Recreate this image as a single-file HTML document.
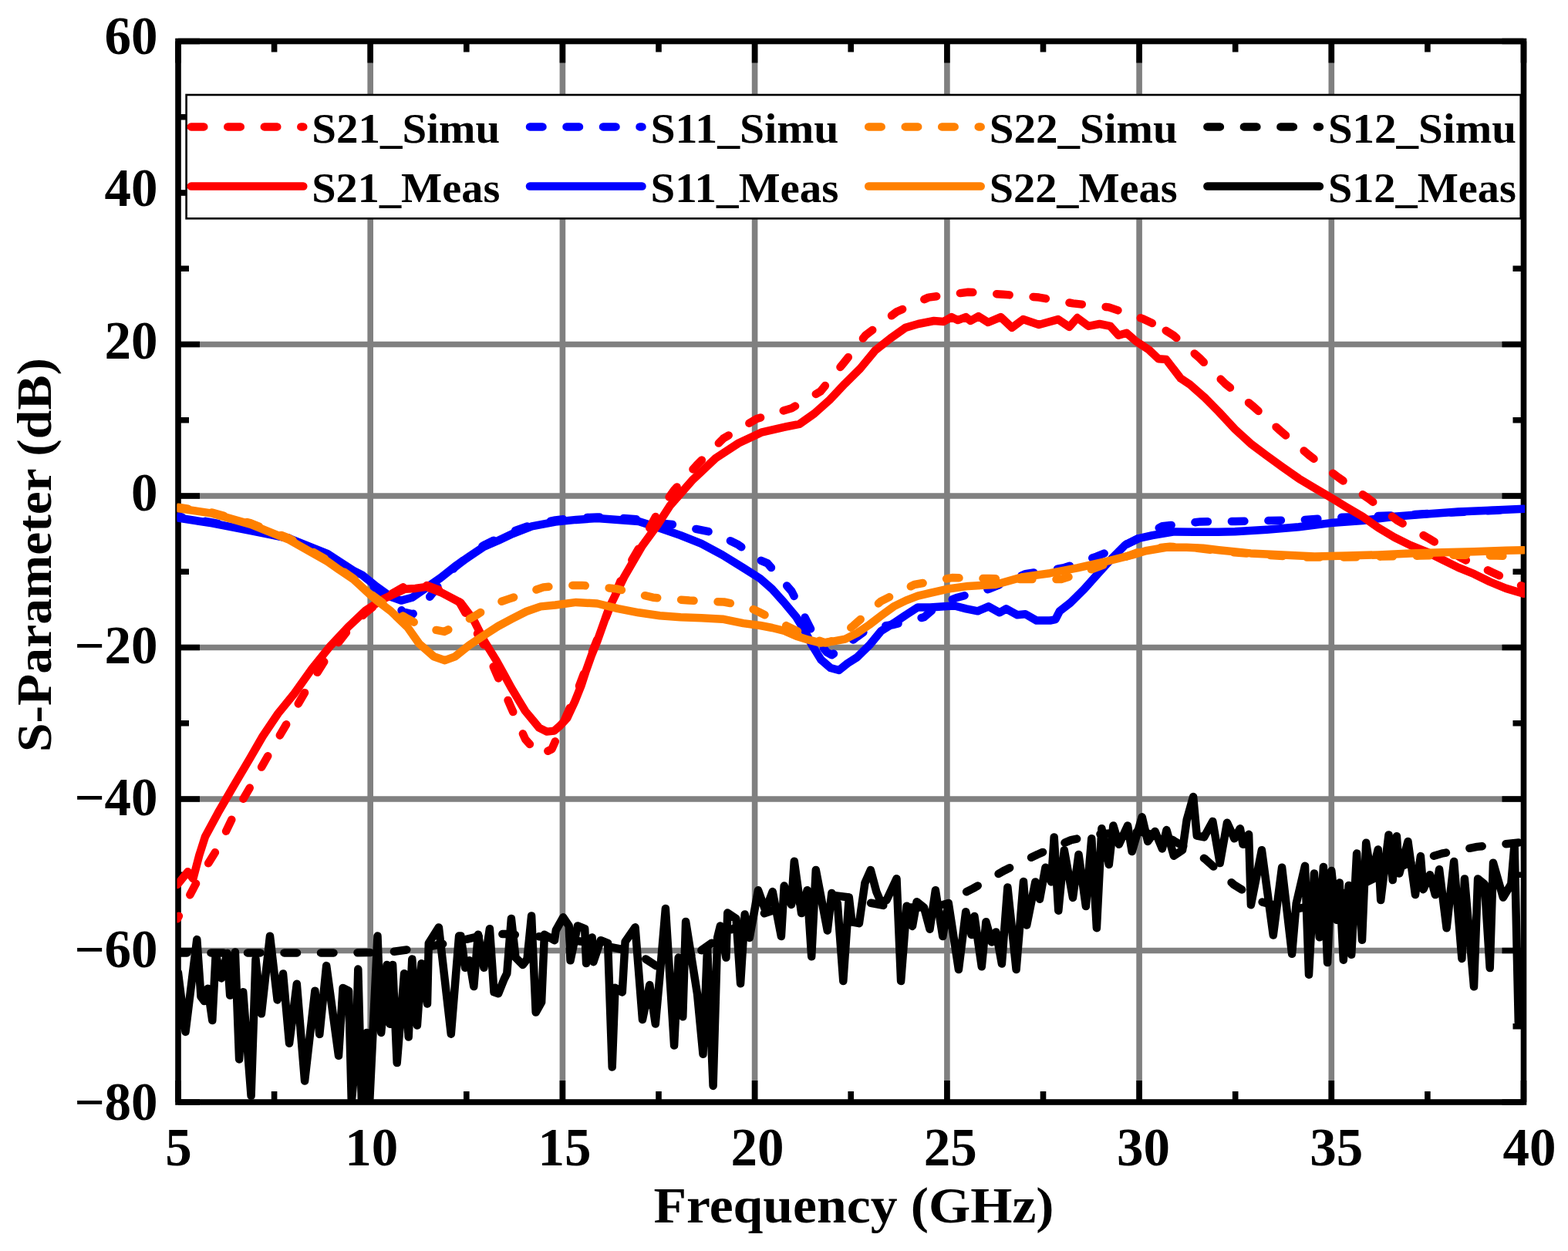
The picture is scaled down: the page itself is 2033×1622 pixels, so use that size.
<!DOCTYPE html><html><head><meta charset="utf-8"><style>html,body{margin:0;padding:0;background:#fff;width:2033px;height:1622px;overflow:hidden}</style></head><body><svg width="2033" height="1622" viewBox="0 0 2033 1622" style="display:block"><rect width="2033" height="1622" fill="#fff"/><path d="M480.2 53.5V1429.0M729.4 53.5V1429.0M978.6 53.5V1429.0M1227.9 53.5V1429.0M1477.1 53.5V1429.0M1726.3 53.5V1429.0M231.0 1232.5H1975.5M231.0 1036.0H1975.5M231.0 839.5H1975.5M231.0 643.0H1975.5M231.0 446.5H1975.5M231.0 250.0H1975.5" stroke="#808080" stroke-width="7.6" fill="none"/><path d="M231.0 1429.0v-28M231.0 53.5v28M355.6 1429.0v-14M355.6 53.5v14M480.2 1429.0v-28M480.2 53.5v28M604.8 1429.0v-14M604.8 53.5v14M729.4 1429.0v-28M729.4 53.5v28M854.0 1429.0v-14M854.0 53.5v14M978.6 1429.0v-28M978.6 53.5v28M1103.2 1429.0v-14M1103.2 53.5v14M1227.9 1429.0v-28M1227.9 53.5v28M1352.5 1429.0v-14M1352.5 53.5v14M1477.1 1429.0v-28M1477.1 53.5v28M1601.7 1429.0v-14M1601.7 53.5v14M1726.3 1429.0v-28M1726.3 53.5v28M1850.9 1429.0v-14M1850.9 53.5v14M1975.5 1429.0v-28M1975.5 53.5v28M231.0 1429.0h28M1975.5 1429.0h-28M231.0 1330.8h14M1975.5 1330.8h-14M231.0 1232.5h28M1975.5 1232.5h-28M231.0 1134.2h14M1975.5 1134.2h-14M231.0 1036.0h28M1975.5 1036.0h-28M231.0 937.8h14M1975.5 937.8h-14M231.0 839.5h28M1975.5 839.5h-28M231.0 741.2h14M1975.5 741.2h-14M231.0 643.0h28M1975.5 643.0h-28M231.0 544.8h14M1975.5 544.8h-14M231.0 446.5h28M1975.5 446.5h-28M231.0 348.2h14M1975.5 348.2h-14M231.0 250.0h28M1975.5 250.0h-28M231.0 151.8h14M1975.5 151.8h-14M231.0 53.5h28M1975.5 53.5h-28" stroke="#000" stroke-width="7.6" fill="none"/><rect x="231.0" y="53.5" width="1744.5" height="1375.5" fill="none" stroke="#000" stroke-width="7.6"/><g clip-path="url(#clip)"><clipPath id="clip"><rect x="229.5" y="52.0" width="1747.5" height="1378.5"/></clipPath><path d="M231.0 669.5 274.9 677.4 325.2 687.2 375.0 698.0 424.9 719.6 458.3 741.2 480.2 757.0 505.1 776.6 522.6 793.3 535.0 796.3 547.5 786.4 558.0 772.7 574.9 751.1 589.9 735.4 608.3 720.6 627.3 706.9 645.7 698.0 664.6 689.2 689.6 680.3 720.0 674.4 746.9 671.5 774.3 670.5 801.2 671.5 828.1 673.5 855.5 678.4 874.0 680.3 923.8 690.2 956.7 705.9 983.6 725.5 995.1 730.4 1026.5 766.8 1048.4 810.0 1057.9 828.7 1071.8 845.4 1078.3 849.3 1093.3 839.5 1111.2 825.7 1127.2 814.0 1158.6 810.0 1198.0 800.2 1217.9 783.5 1241.3 774.7 1281.7 763.8 1329.5 744.2 1379.4 736.3 1421.7 721.6 1462.1 704.9 1507.0 682.3 1556.3 676.4 1601.7 676.0 1646.5 675.0 1691.4 673.9 1736.3 670.9 1801.0 668.5 1850.9 666.1 1900.7 663.6 1940.6 661.7 1975.5 658.7" stroke="#0000ff" stroke-width="10.5" stroke-linejoin="round" stroke-linecap="round" stroke-dasharray="16.5 31" stroke-dashoffset="11.5" fill="none"/><path d="M231.0 671.5 274.9 678.4 325.2 688.2 375.0 698.0 424.9 718.2 439.8 727.9 458.3 739.8 469.7 745.7 488.2 760.5 506.6 773.7 520.1 778.6 534.5 774.7 553.0 761.9 571.4 749.1 589.9 734.4 608.3 721.6 627.3 708.8 645.7 701.0 664.6 692.1 689.6 682.3 720.0 676.6 746.9 673.9 774.3 671.9 801.2 673.9 828.1 675.9 855.5 684.8 882.4 694.1 909.4 704.9 936.8 719.6 963.7 736.3 985.6 750.1 1001.1 763.8 1017.0 781.5 1032.5 800.2 1043.4 817.9 1052.9 836.6 1064.4 855.2 1076.8 866.0 1087.8 869.0 1098.8 860.1 1111.2 852.3 1127.2 836.6 1142.6 817.9 1158.6 808.1 1174.5 797.3 1190.0 787.4 1205.9 787.4 1227.9 786.1 1237.8 785.5 1252.8 789.4 1267.7 792.3 1281.7 786.4 1296.1 794.3 1304.6 789.4 1319.1 797.3 1329.5 796.3 1344.0 804.6 1361.4 804.6 1368.4 803.1 1373.9 792.3 1387.9 781.5 1405.8 763.8 1423.2 744.2 1441.2 724.5 1458.6 706.9 1476.6 698.0 1494.0 694.1 1520.9 689.6 1547.3 689.7 1579.7 689.7 1601.2 689.2 1642.5 686.7 1683.9 683.3 1725.3 678.1 1766.7 675.0 1808.0 669.8 1849.4 666.6 1890.8 663.6 1932.1 661.7 1975.5 659.7" stroke="#0000ff" stroke-width="10.5" stroke-linejoin="round" stroke-linecap="round" fill="none"/><path d="M230.0 1191.2 255.9 1142.1 282.8 1098.9 303.3 1056.6 326.2 1017.3 349.6 976.1 372.6 936.8 396.0 896.5 421.9 855.2 448.3 820.8 474.2 794.3 497.7 775.6 525.1 759.9 553.0 758.9 574.9 766.8 595.4 780.5 628.7 838.5 644.7 875.9 662.6 917.1 681.1 958.4 699.5 979.0 715.5 971.2 734.4 927.9 749.4 893.5 764.3 854.2 784.8 802.7 795.7 775.1" stroke="#ff0000" stroke-width="10.5" stroke-linejoin="round" stroke-linecap="round" stroke-dasharray="16.5 31" stroke-dashoffset="12.5" fill="none"/><path d="M795.7 775.1 806.7 748.1 827.1 712.8 851.5 667.1 874.0 635.5 903.4 603.0 937.8 568.6 981.1 543.0 1026.5 529.2 1063.9 507.4 1094.3 470.1 1122.2 434.7 1162.6 404.3 1203.9 385.6 1255.3 378.7 1300.6 381.7 1347.0 385.6 1391.3 393.4 1437.7 398.4 1481.1 413.1 1502.0 422.9" stroke="#ff0000" stroke-width="10.5" stroke-linejoin="round" stroke-linecap="round" stroke-dasharray="16.5 31" stroke-dashoffset="40.5" fill="none"/><path d="M1502.0 422.9 1521.4 434.7 1555.3 464.2 1588.7 497.6 1625.1 527.1 1660.0 558.5 1697.4 590.3 1735.8 619.4 1773.6 645.9 1812.0 675.0 1852.4 698.0 1894.8 723.6 1935.1 742.2 1975.5 760.9" stroke="#ff0000" stroke-width="10.5" stroke-linejoin="round" stroke-linecap="round" stroke-dasharray="16.5 31" stroke-dashoffset="36.1" fill="none"/><path d="M230.0 1147.0 243.5 1130.3 250.4 1139.2 258.4 1108.7 265.9 1085.1 282.8 1053.7 303.3 1018.3 323.7 983.9 340.7 954.5 360.6 925.0 381.5 899.4 404.5 867.0 427.9 838.0 451.3 813.0 474.2 791.4 497.7 776.2 525.1 763.8 538.5 762.9 553.0 760.9 573.4 768.8 597.3 781.5 614.3 804.1 628.7 832.6 643.7 856.7 653.7 874.9 662.6 891.3 672.1 907.1 681.1 922.0 691.0 933.8 699.0 943.6 709.0 948.6 718.5 947.6 726.4 940.7 735.4 930.9 745.4 909.3 753.4 889.3 759.8 869.7 766.8 849.9 774.3 831.6 789.2 789.4 809.2 748.1 832.6 707.8 852.5 680.6 869.0 655.2 898.4 621.8 927.8 594.2 957.7 574.5 987.1 560.7 1016.5 553.8 1036.5 549.9 1055.9 536.1 1075.8 518.3 1095.3 497.7 1115.2 478.0 1134.7 454.4 1154.6 438.6 1174.0 424.9 1190.5 420.0 1210.9 416.0 1223.4 417.0 1233.8 411.1 1241.8 415.1 1252.3 411.1 1258.3 416.0 1268.7 410.1 1281.2 418.0 1297.6 411.1 1312.1 424.9 1326.5 414.1 1347.0 421.0 1371.9 414.1 1386.4 423.9 1396.8 412.1 1411.3 422.9 1425.7 420.0 1439.7 422.9 1450.2 434.7 1460.6 431.8 1473.1 442.6 1489.5 453.4 1502.0 465.2 1512.0 466.1 1530.9 490.7 1542.9 498.6 1561.8 515.3 1580.2 533.9 1601.2 556.5 1621.6 575.2 1642.5 590.9 1663.0 605.7 1683.9 620.4 1704.4 632.7 1725.3 645.0 1745.7 657.4 1766.7 669.8 1787.1 684.3 1808.0 696.7 1828.5 706.9 1849.4 715.3 1869.8 725.5 1890.8 735.9 1911.2 744.2 1932.1 754.5 1952.6 762.9 1975.5 769.7" stroke="#ff0000" stroke-width="10.5" stroke-linejoin="round" stroke-linecap="round" fill="none"/><path d="M231.0 657.7 274.9 664.6 325.2 678.4 375.0 698.0 424.9 726.5 458.3 750.1 480.2 769.7 505.1 788.4 528.6 802.2 550.0 814.0 575.9 818.9 594.9 810.0 617.3 797.7 639.7 783.5 659.6 776.6 704.5 761.4 729.4 758.9 754.4 758.9 799.2 763.4 846.6 774.7 893.9 778.6 938.8 780.5 968.7 786.4 983.6 793.3 1017.0 810.0 1048.4 825.7 1070.4 833.6 1083.3 829.7 1106.7 811.0 1142.1 779.6 1185.5 758.0 1234.3 749.1 1282.7 750.1 1332.5 751.1 1375.9 751.1 1412.3 739.3 1452.2 724.5 1487.0 711.8 1516.9 708.8 1551.8 710.8 1591.7 715.7 1641.6 719.6 1691.4 722.6 1741.2 722.6 1791.1 721.6 1840.9 720.6 1890.8 719.6 1940.6 720.6 1975.5 721.6" stroke="#ff8000" stroke-width="10.5" stroke-linejoin="round" stroke-linecap="round" stroke-dasharray="16.5 31" stroke-dashoffset="3.5" fill="none"/><path d="M231.0 659.1 274.9 665.6 325.2 679.9 375.0 700.0 424.9 728.1 439.8 738.7 458.3 751.1 480.2 771.3 489.2 779.1 506.6 792.3 528.6 813.5 543.5 834.6 562.5 851.3 576.9 856.2 589.9 851.3 608.3 836.6 627.3 823.8 645.7 812.0 664.1 802.2 682.6 792.8 701.0 786.4 720.0 784.5 746.9 780.9 774.3 782.5 801.2 789.1 828.1 794.3 855.5 798.2 882.4 800.2 909.4 801.2 936.8 802.7 963.7 808.1 985.6 811.0 1001.1 814.0 1017.0 817.9 1032.5 824.8 1048.4 829.7 1064.4 833.6 1079.8 831.6 1095.8 828.7 1111.2 820.8 1127.2 810.0 1142.6 798.2 1158.6 786.4 1174.5 778.6 1190.0 772.7 1205.9 768.8 1227.9 763.8 1255.3 759.9 1290.7 758.0 1326.0 748.1 1361.4 743.2 1396.8 736.3 1432.2 728.5 1467.6 719.6 1485.5 714.3 1512.0 709.8 1538.4 709.8 1559.8 710.8 1580.2 713.2 1621.6 717.4 1663.0 719.4 1704.4 721.6 1745.7 720.6 1787.1 719.4 1828.5 717.4 1869.8 716.3 1911.2 715.3 1952.6 713.7 1975.5 713.2" stroke="#ff8000" stroke-width="10.5" stroke-linejoin="round" stroke-linecap="round" fill="none"/><path d="M231.0 1235.4 330.7 1235.4 430.4 1235.4 480.2 1235.0 505.1 1234.5 555.0 1227.6 604.8 1217.8 629.7 1211.9 654.7 1210.9 704.5 1214.8 754.4 1220.7 804.2 1230.5 832.6 1240.4 850.5 1252.2 874.0 1248.2 908.9 1232.5" stroke="#000000" stroke-width="10.5" stroke-linejoin="round" stroke-linecap="round" stroke-dasharray="16.5 31" stroke-dashoffset="5.0" fill="none"/><path d="M908.9 1232.5 943.8 1207.9 978.6 1188.3 1028.5 1171.6 1078.3 1160.8 1103.2 1163.7 1128.2 1170.6 1153.1 1175.5 1178.0 1176.5 1207.9 1176.5 1227.9 1171.6" stroke="#000000" stroke-width="10.5" stroke-linejoin="round" stroke-linecap="round" stroke-dasharray="16.5 31" stroke-dashoffset="46.9" fill="none"/><path d="M1227.9 1171.6 1247.8 1158.8 1261.8 1151.9 1302.6 1128.4 1345.5 1107.7 1388.8 1089.1 1427.2 1081.2 1477.1 1078.2 1516.9 1087.1 1562.3 1113.6 1599.7 1147.0 1636.6 1169.6 1676.4 1179.4 1716.3 1171.6 1751.2 1153.9 1791.1 1134.2 1826.0 1119.5 1869.3 1106.7 1915.2 1097.9 1964.5 1093.0 1975.5 1092.0" stroke="#000000" stroke-width="10.5" stroke-linejoin="round" stroke-linecap="round" stroke-dasharray="16.5 31" stroke-dashoffset="17.9" fill="none"/><path d="M230.9 1261.0 240.5 1337.9 255.3 1218.1 260.5 1292.1 264.9 1298.0 269.4 1281.7 275.3 1323.1 279.7 1237.3 287.1 1268.4 294.5 1235.9 298.2 1290.6 304.9 1234.4 310.1 1373.4 315.2 1286.2 325.6 1420.8 331.5 1243.3 338.9 1314.3 350.0 1213.7 359.6 1296.5 367.0 1262.5 375.1 1352.7 384.8 1275.8 395.1 1401.5 408.4 1284.7 414.3 1340.9 423.2 1252.1 439.0 1368.8 444.6 1280.9 452.1 1284.7 455.8 1428.6 461.4 1366.9 464.3 1256.6 468.9 1428.6 475.5 1338.9 479.2 1428.6 489.5 1213.6 494.2 1338.9 501.6 1251.0 505.4 1327.7 509.1 1251.0 514.7 1378.1 524.1 1262.2 529.7 1344.5 534.3 1243.6 540.9 1329.5 546.5 1249.2 554.0 1301.5 555.8 1223.0 568.9 1202.4 584.8 1340.7 595.1 1213.6 597.5 1213.6 603.1 1254.7 608.7 1245.3 614.3 1279.0 619.9 1211.7 627.4 1254.7 634.9 1204.2 640.5 1286.4 646.1 1288.3 653.6 1269.6 657.3 1262.1 662.9 1191.1 668.5 1241.6 677.9 1250.9 683.5 1243.5 689.1 1187.4 694.7 1312.6 702.1 1299.5 705.9 1211.7 719.0 1219.2 720.8 1206.1 730.2 1189.3 737.7 1200.5 739.5 1245.3 748.9 1200.5 758.2 1204.2 760.1 1249.1 767.6 1215.4 769.4 1247.2 778.8 1219.2 788.1 1222.9 793.7 1383.6 797.5 1280.8 806.8 1286.4 810.6 1221.0 823.6 1202.3 833.0 1322.0 842.3 1277.1 849.8 1327.6 855.4 1265.9 862.9 1178.0 874.1 1355.6 879.7 1241.6 885.3 1318.2 889.1 1194.9 904.0 1288.3 911.5 1366.8 917.1 1228.5 924.6 1407.9 930.2 1215.4 933.9 1200.5 941.4 1241.6 943.3 1183.6 954.5 1191.1 960.1 1275.2 965.7 1185.5 971.8 1215.9 983.0 1154.2 992.4 1180.4 1001.7 1156.1 1012.9 1214.0 1016.7 1148.6 1026.0 1172.9 1029.8 1116.8 1039.1 1184.1 1046.6 1154.2 1052.2 1240.2 1057.8 1128.0 1072.8 1206.5 1078.4 1157.9 1085.8 1171.0 1093.3 1272.0 1100.8 1163.6 1104.5 1195.3 1113.9 1197.2 1121.4 1144.9 1128.8 1128.0 1136.3 1156.1 1141.9 1169.2 1149.4 1167.3 1162.5 1139.3 1168.1 1272.0 1175.6 1174.8 1183.0 1200.9 1188.6 1169.2 1198.0 1176.6 1205.5 1204.7 1212.9 1154.2 1222.3 1214.0 1229.8 1171.0 1242.9 1257.0 1252.2 1182.2 1259.7 1212.1 1263.4 1187.9 1272.8 1253.3 1278.4 1195.3 1285.8 1221.5 1291.4 1208.4 1298.9 1249.5 1306.4 1150.5 1317.6 1257.0 1327.0 1143.0 1331.2 1199.4 1342.4 1143.4 1348.0 1165.8 1355.5 1124.7 1363.0 1143.4 1366.7 1085.4 1372.3 1180.7 1379.8 1102.2 1391.0 1163.9 1398.5 1107.9 1407.9 1175.1 1415.3 1087.3 1421.9 1203.2 1428.4 1074.2 1437.8 1120.9 1443.4 1070.5 1450.8 1094.8 1462.1 1070.5 1467.7 1104.1 1480.7 1059.3 1488.2 1091.0 1497.6 1077.9 1506.9 1100.4 1512.5 1076.1 1521.9 1109.7 1533.1 1102.2 1538.7 1063.0 1547.1 1033.1 1551.8 1083.6 1561.1 1085.4 1572.3 1064.9 1581.7 1119.1 1591.0 1066.7 1600.4 1087.3 1607.9 1074.2 1611.6 1094.8 1619.1 1081.7 1621.9 1173.3 1635.9 1102.2 1650.8 1212.5 1662.1 1124.7 1675.1 1236.8 1680.7 1171.4 1692.0 1122.8 1697.0 1263.7 1703.9 1132.5 1710.8 1215.3 1715.9 1123.9 1721.1 1248.1 1726.3 1129.0 1733.2 1192.9 1736.7 1144.6 1741.8 1244.7 1748.7 1148.0 1752.2 1237.8 1759.1 1106.6 1766.0 1218.8 1771.2 1092.8 1778.1 1137.7 1786.7 1101.4 1790.2 1167.0 1800.5 1082.4 1805.7 1141.1 1810.9 1084.2 1814.3 1132.5 1825.5 1091.1 1835.0 1160.1 1841.9 1110.1 1845.4 1153.2 1854.0 1134.2 1860.9 1160.1 1866.1 1127.3 1875.6 1203.3 1885.1 1117.0 1895.4 1242.9 1898.9 1139.4 1911.0 1279.2 1916.1 1139.4 1924.8 1146.3 1931.7 1255.0 1936.0 1118.7 1948.9 1163.6 1959.3 1146.3 1963.6 1094.5 1968.8 1325.8" stroke="#000000" stroke-width="10.5" stroke-linejoin="round" stroke-linecap="round" fill="none"/></g><rect x="241.6" y="123.0" width="1730.1000000000001" height="160.3" fill="#fff" stroke="#000" stroke-width="2.6"/><path d="M247.8 164.4H393.3" stroke="#ff0000" stroke-width="10.5" stroke-linecap="round" stroke-dasharray="16.5 31" fill="none"/><text x="404.3" y="184.9" font-family="'Liberation Serif', 'DejaVu Serif', serif" font-weight="bold" font-size="55.5" textLength="244" lengthAdjust="spacingAndGlyphs">S21_Simu</text><path d="M247.8 241.5H393.3" stroke="#ff0000" stroke-width="10.5" stroke-linecap="round" fill="none"/><text x="404.3" y="262.0" font-family="'Liberation Serif', 'DejaVu Serif', serif" font-weight="bold" font-size="55.5" textLength="244" lengthAdjust="spacingAndGlyphs">S21_Meas</text><path d="M687.0 164.4H832.5" stroke="#0000ff" stroke-width="10.5" stroke-linecap="round" stroke-dasharray="16.5 31" fill="none"/><text x="843.5" y="184.9" font-family="'Liberation Serif', 'DejaVu Serif', serif" font-weight="bold" font-size="55.5" textLength="244" lengthAdjust="spacingAndGlyphs">S11_Simu</text><path d="M687.0 241.5H832.5" stroke="#0000ff" stroke-width="10.5" stroke-linecap="round" fill="none"/><text x="843.5" y="262.0" font-family="'Liberation Serif', 'DejaVu Serif', serif" font-weight="bold" font-size="55.5" textLength="244" lengthAdjust="spacingAndGlyphs">S11_Meas</text><path d="M1126.2 164.4H1271.7" stroke="#ff8000" stroke-width="10.5" stroke-linecap="round" stroke-dasharray="16.5 31" fill="none"/><text x="1282.7" y="184.9" font-family="'Liberation Serif', 'DejaVu Serif', serif" font-weight="bold" font-size="55.5" textLength="244" lengthAdjust="spacingAndGlyphs">S22_Simu</text><path d="M1126.2 241.5H1271.7" stroke="#ff8000" stroke-width="10.5" stroke-linecap="round" fill="none"/><text x="1282.7" y="262.0" font-family="'Liberation Serif', 'DejaVu Serif', serif" font-weight="bold" font-size="55.5" textLength="244" lengthAdjust="spacingAndGlyphs">S22_Meas</text><path d="M1565.4 164.4H1710.9" stroke="#000000" stroke-width="10.5" stroke-linecap="round" stroke-dasharray="16.5 31" fill="none"/><text x="1721.9" y="184.9" font-family="'Liberation Serif', 'DejaVu Serif', serif" font-weight="bold" font-size="55.5" textLength="244" lengthAdjust="spacingAndGlyphs">S12_Simu</text><path d="M1565.4 241.5H1710.9" stroke="#000000" stroke-width="10.5" stroke-linecap="round" fill="none"/><text x="1721.9" y="262.0" font-family="'Liberation Serif', 'DejaVu Serif', serif" font-weight="bold" font-size="55.5" textLength="244" lengthAdjust="spacingAndGlyphs">S12_Meas</text><text x="204.5" y="1451.8" text-anchor="end" font-family="'Liberation Serif', 'DejaVu Serif', serif" font-weight="bold" font-size="69">−80</text><text x="204.5" y="1254.4" text-anchor="end" font-family="'Liberation Serif', 'DejaVu Serif', serif" font-weight="bold" font-size="69">−60</text><text x="204.5" y="1057.0" text-anchor="end" font-family="'Liberation Serif', 'DejaVu Serif', serif" font-weight="bold" font-size="69">−40</text><text x="204.5" y="859.6" text-anchor="end" font-family="'Liberation Serif', 'DejaVu Serif', serif" font-weight="bold" font-size="69">−20</text><text x="204.5" y="662.2" text-anchor="end" font-family="'Liberation Serif', 'DejaVu Serif', serif" font-weight="bold" font-size="69">0</text><text x="204.5" y="464.8" text-anchor="end" font-family="'Liberation Serif', 'DejaVu Serif', serif" font-weight="bold" font-size="69">20</text><text x="204.5" y="267.4" text-anchor="end" font-family="'Liberation Serif', 'DejaVu Serif', serif" font-weight="bold" font-size="69">40</text><text x="204.5" y="70.0" text-anchor="end" font-family="'Liberation Serif', 'DejaVu Serif', serif" font-weight="bold" font-size="69">60</text><text x="231.5" y="1511.2" text-anchor="middle" font-family="'Liberation Serif', 'DejaVu Serif', serif" font-weight="bold" font-size="69">5</text><text x="481.7" y="1511.2" text-anchor="middle" font-family="'Liberation Serif', 'DejaVu Serif', serif" font-weight="bold" font-size="69">10</text><text x="731.9" y="1511.2" text-anchor="middle" font-family="'Liberation Serif', 'DejaVu Serif', serif" font-weight="bold" font-size="69">15</text><text x="982.1" y="1511.2" text-anchor="middle" font-family="'Liberation Serif', 'DejaVu Serif', serif" font-weight="bold" font-size="69">20</text><text x="1232.3" y="1511.2" text-anchor="middle" font-family="'Liberation Serif', 'DejaVu Serif', serif" font-weight="bold" font-size="69">25</text><text x="1482.5" y="1511.2" text-anchor="middle" font-family="'Liberation Serif', 'DejaVu Serif', serif" font-weight="bold" font-size="69">30</text><text x="1732.7" y="1511.2" text-anchor="middle" font-family="'Liberation Serif', 'DejaVu Serif', serif" font-weight="bold" font-size="69">35</text><text x="1982.9" y="1511.2" text-anchor="middle" font-family="'Liberation Serif', 'DejaVu Serif', serif" font-weight="bold" font-size="69">40</text><text x="847.5" y="1585" font-family="'Liberation Serif', 'DejaVu Serif', serif" font-weight="bold" font-size="66" textLength="519" lengthAdjust="spacingAndGlyphs">Frequency (GHz)</text><text transform="translate(65.6 975) rotate(-90)" x="0" y="0" font-family="'Liberation Serif', 'DejaVu Serif', serif" font-weight="bold" font-size="64" textLength="511" lengthAdjust="spacingAndGlyphs">S-Parameter (dB)</text></svg></body></html>
